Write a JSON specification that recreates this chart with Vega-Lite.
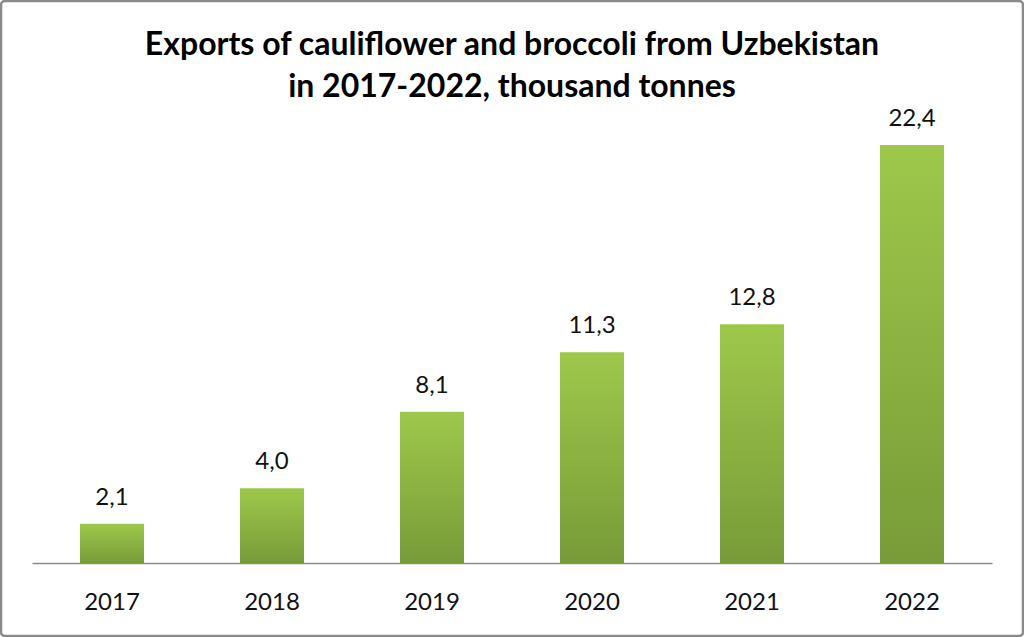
{
  "$schema": "https://vega.github.io/schema/vega-lite/v6.json",
  "width": 1022,
  "height": 635,
  "padding": 1,
  "autosize": {"type": "none"},
  "background": "white",
  "config": {
    "view": {"stroke": "#8a8a8a", "strokeWidth": 2.5, "cornerRadius": 4},
    "locale": {"number": {"decimal": ",", "thousands": " ", "grouping": [3], "currency": ["", ""]}},
    "font": "Lato"
  },
  "title": {
    "text": ["Exports of cauliflower and broccoli from Uzbekistan", "in 2017-2022, thousand tonnes"],
    "font": "Lato",
    "fontSize": 32,
    "fontWeight": "bold",
    "color": "#000000",
    "anchor": "middle",
    "frame": "group",
    "lineHeight": 42,
    "offset": -103
  },
  "data": {
    "values": [
      {"year": "2017", "value": 2.1},
      {"year": "2018", "value": 4.0},
      {"year": "2019", "value": 8.1},
      {"year": "2020", "value": 11.3},
      {"year": "2021", "value": 12.8},
      {"year": "2022", "value": 22.4}
    ]
  },
  "encoding": {
    "x": {
      "field": "year",
      "type": "nominal",
      "sort": null,
      "scale": {"range": [31, 991], "paddingInner": 0.6, "paddingOuter": 0.3},
      "axis": {
        "title": null,
        "labelAngle": 0,
        "offset": -73,
        "domainColor": "#8a8a8a",
        "domainWidth": 1.5,
        "ticks": false,
        "labelPadding": 27,
        "labelFont": "Lato",
        "labelFontSize": 24,
        "labelColor": "#111111"
      }
    },
    "y": {
      "field": "value",
      "type": "quantitative",
      "scale": {"domain": [0, 25], "range": [562, 95.5], "nice": false},
      "axis": null
    }
  },
  "layer": [
    {
      "mark": {
        "type": "bar",
        "color": {
          "gradient": "linear",
          "x1": 0, "y1": 0, "x2": 0, "y2": 1,
          "stops": [
            {"offset": 0, "color": "#9ec84b"},
            {"offset": 1, "color": "#789b38"}
          ]
        }
      }
    },
    {
      "mark": {"type": "text", "baseline": "alphabetic", "dy": -19, "font": "Lato", "fontSize": 24, "color": "#111111"},
      "encoding": {"text": {"field": "value", "type": "quantitative", "format": ".1f"}}
    }
  ]
}
